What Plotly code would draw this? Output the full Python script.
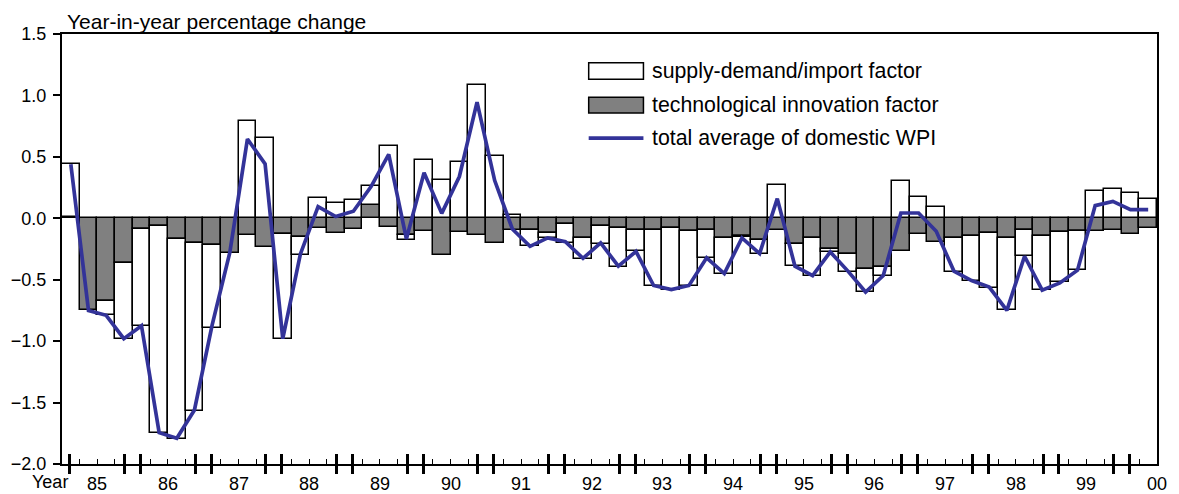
import plotly.graph_objects as go

FONT = "Liberation Sans, Arial, sans-serif"
GRAY = "#808080"
LINE_COLOR = "#333399"

# quarterly, 1985 Q1 .. 2000 Q2
years = ["85", "86", "87", "88", "89", "90", "91", "92", "93", "94", "95", "96", "97", "98", "99", "00"]

tech_factor = [
    0.01, -0.75, -0.67, -0.36,
    -0.09, -0.065, -0.17, -0.20,
    -0.215, -0.28, -0.14, -0.23,
    -0.13, -0.15, -0.08, -0.12,
    -0.087, 0.11, -0.068, -0.14,
    -0.10, -0.296, -0.114, -0.136,
    -0.20, -0.095, -0.092, -0.12,
    -0.046, -0.16, -0.065, -0.082,
    -0.092, -0.092, -0.079, -0.106,
    -0.092, -0.16, -0.141, -0.173,
    -0.092, -0.209, -0.16, -0.247,
    -0.287, -0.412, -0.398, -0.268,
    -0.125, -0.19, -0.16, -0.146,
    -0.12, -0.16, -0.092, -0.146,
    -0.114, -0.106, -0.106, -0.092,
    -0.127, -0.079,
]

supply_factor = [
    0.43, None, -0.117, -0.62,
    -0.788, -1.68, -1.625, -1.367,
    -0.674, None, 0.79, 0.655,
    -0.85, -0.146, 0.166, 0.125,
    0.149, 0.15, 0.59, -0.04,
    0.476, 0.3125, 0.462, 1.082,
    0.505, 0.027, -0.136, -0.04,
    -0.154, -0.17, -0.145, -0.312,
    -0.172, -0.461, -0.506, -0.447,
    -0.23, -0.293, -0.011, -0.114,
    0.268, -0.181, -0.31, -0.029,
    -0.152, -0.188, -0.072, 0.30,
    0.17, 0.089, -0.279, -0.361,
    -0.446, -0.59, -0.217, -0.439,
    -0.406, -0.311, 0.22, 0.238,
    0.206, 0.157,
]

wpi_total = [
    0.44, -0.75, -0.79, -0.98,
    -0.875, -1.745, -1.79, -1.56,
    -0.87, -0.28, 0.645, 0.443,
    -0.98, -0.29, 0.095, 0.014,
    0.057, 0.258, 0.52, -0.168,
    0.37, 0.04, 0.34, 0.946,
    0.307, -0.087, -0.228, -0.16,
    -0.19, -0.326, -0.20, -0.39,
    -0.27, -0.547, -0.58, -0.547,
    -0.322, -0.45, -0.16, -0.287,
    0.16, -0.39, -0.466, -0.274,
    -0.43, -0.60, -0.466, 0.043,
    0.043, -0.106, -0.43, -0.507,
    -0.56, -0.75, -0.309, -0.585,
    -0.526, -0.423, 0.103, 0.138,
    0.07, 0.07,
]

y_ticks = [1.5, 1.0, 0.5, 0.0, -0.5, -1.0, -1.5, -2.0]

n = len(wpi_total)
xs = list(range(n))
x_range = [-0.5, n - 0.5]

# quarter boundaries get thin ticks, year boundaries a thick pair
year_edges = [q - 0.5 for q in range(0, n, 4)]
thin_ticks = [q + 0.5 for q in range(n - 1) if (q + 1) % 4 != 0]
thick_ticks = [e + d for e in year_edges for d in (-0.45, 0.45) if x_range[0] < e + d < x_range[1]]

fig = go.Figure()
fig.add_trace(go.Bar(
    x=xs, y=tech_factor, name="technological innovation factor",
    marker=dict(color=GRAY, line=dict(color="black", width=1.5)),
    showlegend=False,
))
fig.add_trace(go.Bar(
    x=xs, y=supply_factor, name="supply-demand/import factor",
    marker=dict(color="white", line=dict(color="black", width=1.5)),
    showlegend=False,
))
fig.add_trace(go.Scatter(
    x=xs, y=wpi_total, name="total average of domestic WPI", mode="lines",
    line=dict(color=LINE_COLOR, width=3.7), showlegend=False,
))
# empty traces so the tick-only overlay axes get drawn
for ax in ("x2", "x3"):
    fig.add_trace(go.Scatter(x=[None], y=[None], xaxis=ax, showlegend=False, hoverinfo="skip"))

tick_axis = dict(range=x_range, overlaying="x", anchor="y", showline=False, showgrid=False,
                 zeroline=False, tickmode="array", tickvals=thick_ticks, showticklabels=False,
                 tickcolor="black", tickwidth=3, automargin=False)

# page body keeps an 8px margin, so the figure is 8px smaller than the window
fig.update_layout(
    width=1171, height=486,
    template="simple_white",
    barmode="relative", bargap=0,
    margin=dict(l=54, r=22, t=26, b=30),
    font=dict(family=FONT, size=18, color="black"),
    plot_bgcolor="white", paper_bgcolor="white",
    xaxis=dict(range=x_range, showline=True, linecolor="black", linewidth=2, mirror=True,
               ticks="inside", tickmode="array", tickvals=thin_ticks, ticklen=5, tickwidth=1,
               tickcolor="black", showticklabels=False, showgrid=False, zeroline=False,
               automargin=False),
    xaxis2=dict(tick_axis, ticks="inside", ticklen=10),
    xaxis3=dict(tick_axis, ticks="outside", ticklen=9),
    yaxis=dict(range=[-2.0, 1.5], showline=True, linecolor="black", linewidth=2, mirror=True,
               ticks="outside", tickvals=y_ticks, tickformat=".1f", ticklen=7, tickwidth=1.5,
               tickcolor="black", showgrid=False, zeroline=False, automargin=False,
               ticklabelstandoff=3, tickfont=dict(size=18)),
)

# title box pinned to the top edge of the figure
fig.add_annotation(text="Year-in-year percentage change", xref="paper", yref="paper",
                   x=0.003, y=1, yshift=26, xanchor="left", yanchor="top",
                   showarrow=False, font=dict(size=21))
fig.add_annotation(text="Year", xref="x", yref="paper", x=-0.05, y=0, yshift=-18,
                   xanchor="right", yanchor="middle", showarrow=False, font=dict(size=18))
for k, label in enumerate(years):
    pos = min(4 * k + 1.5, x_range[1])
    fig.add_annotation(text=label, xref="x", yref="paper", x=pos, y=0, yshift=-20,
                       xanchor="center", yanchor="middle", showarrow=False, font=dict(size=18))

# legend drawn by hand to get the wide swatches
legend_items = [
    ("supply-demand/import factor", "white", 0.933, 0.895),
    ("technological innovation factor", GRAY, 0.853, 0.816),
]
for text, color, y0, y1 in legend_items:
    fig.add_shape(type="rect", xref="paper", yref="paper", x0=0.481, x1=0.531, y0=y1, y1=y0,
                  fillcolor=color, opacity=1, line=dict(color="black", width=1.5))
    fig.add_annotation(text=text, xref="paper", yref="paper", x=0.537, y=(y0 + y1) / 2,
                       xanchor="left", yanchor="middle", showarrow=False, font=dict(size=21.3))
fig.add_shape(type="line", xref="paper", yref="paper", x0=0.481, x1=0.531, y0=0.758, y1=0.758,
              opacity=1, line=dict(color=LINE_COLOR, width=3.7))
fig.add_annotation(text="total average of domestic WPI", xref="paper", yref="paper", x=0.537,
                   y=0.758, xanchor="left", yanchor="middle", showarrow=False, font=dict(size=21.3))

fig.write_html("out.html")
